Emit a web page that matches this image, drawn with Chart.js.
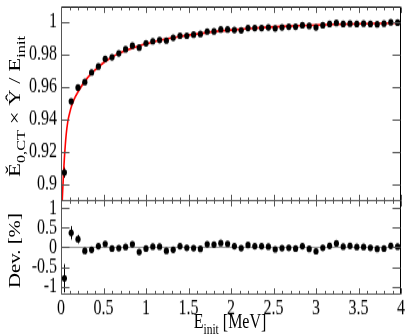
<!DOCTYPE html>
<html>
<head>
<meta charset="utf-8">
<script src="https://cdn.jsdelivr.net/npm/chart.js@4.4.1/dist/chart.umd.min.js"></script>
<style>
  body { margin: 0; background: #fff; }
  #wrap { position: absolute; left: 0; top: 0; width: 407px; height: 258px;
          transform: scaleY(1.2984); transform-origin: 0 0;
          font-family: 'Liberation Serif', 'Times New Roman', serif; }
  canvas { position: absolute; left: 0; top: 0; }
  .ttl { position: absolute; white-space: nowrap; font-size: 16px; color: #000; line-height: 1; }
  .ttl sub { font-size: 72%; vertical-align: -0.35em; line-height: 0; }
  .rot { transform: translate(-50%, -50%) rotate(-90deg); }
</style>
</head>
<body>
<div id="wrap">
  <canvas id="chart" width="407" height="258"></canvas>
  <div class="ttl rot" style="left:15px; top:82px; font-size:17.5px">Ě<sub>0,CT</sub> × Ŷ / E<sub>init</sub></div>
  <div class="ttl rot" style="left:15px; top:193px">Dev. [%]</div>
  <div class="ttl" style="left:230px; top:247.5px; transform:translate(-50%,-50%)">E<sub>init</sub> [MeV]</div>
</div>
<script>
// bin centres [MeV]
const energy = [0.04, 0.12, 0.2, 0.28, 0.36, 0.44, 0.52, 0.6, 0.68, 0.76,
  0.84, 0.92, 1.0, 1.08, 1.16, 1.24, 1.32, 1.4, 1.48, 1.56,
  1.64, 1.72, 1.8, 1.88, 1.96, 2.04, 2.12, 2.2, 2.28, 2.36,
  2.44, 2.52, 2.6, 2.68, 2.76, 2.84, 2.92, 3.0, 3.08, 3.16,
  3.24, 3.32, 3.4, 3.48, 3.56, 3.64, 3.72, 3.8, 3.88, 3.96]

// top panel: measured ratio
const ratio = [0.907, 0.951, 0.9596, 0.963, 0.969, 0.9727, 0.9774, 0.9784, 0.9808, 0.9833,
  0.9855, 0.9843, 0.987, 0.9883, 0.989, 0.9887, 0.9904, 0.9917, 0.9917, 0.9924,
  0.9928, 0.9943, 0.9944, 0.9956, 0.9956, 0.9953, 0.9951, 0.9965, 0.9965, 0.9965,
  0.9969, 0.9963, 0.9969, 0.9973, 0.9973, 0.9982, 0.9978, 0.9969, 0.9982, 0.999,
  0.9996, 0.999, 0.9992, 0.999, 0.9992, 0.999, 0.9988, 0.9992, 1.0, 0.9998]
const ratioErr = [0.0033, 0.0016, 0.001, 0.0008, 0.0006, 0.0005, 0.0005, 0.0004, 0.0004, 0.0004,
  0.0004, 0.0004, 0.0004, 0.0003, 0.0003, 0.0003, 0.0003, 0.0003, 0.0003, 0.0003,
  0.0003, 0.0003, 0.0003, 0.0003, 0.0003, 0.0003, 0.0003, 0.0003, 0.0003, 0.0003,
  0.0003, 0.0003, 0.0003, 0.0003, 0.0003, 0.0003, 0.0003, 0.0003, 0.0003, 0.0003,
  0.0003, 0.0003, 0.0003, 0.0003, 0.0003, 0.0003, 0.0003, 0.0003, 0.0003, 0.0003]

// fit curve
const fitE = [0.01, 0.02, 0.03, 0.04, 0.06, 0.08, 0.1, 0.12, 0.16, 0.2,
  0.28, 0.36, 0.44, 0.52, 0.6, 0.7, 0.8, 0.92, 1.0, 1.2,
  1.4, 1.6, 1.8, 2.0, 2.2, 2.4, 2.6, 2.8, 3.0, 3.2,
  3.4, 3.6, 3.8, 4.0]
const fitRatio = [0.884, 0.896, 0.907, 0.916, 0.93, 0.9385, 0.9435, 0.9475, 0.953, 0.957,
  0.9635, 0.9685, 0.9723, 0.9758, 0.9785, 0.9812, 0.9833, 0.9855, 0.9867, 0.9893,
  0.9912, 0.9928, 0.9942, 0.9952, 0.9961, 0.9968, 0.9974, 0.9979, 0.9983, 0.9987,
  0.999, 0.9992, 0.9994, 0.9996]

// bottom panel: deviation from fit [%]
const dev = [-0.79, 0.37, 0.21, -0.09, -0.06, 0.03, 0.09, -0.03, -0.02, 0.01,
  0.08, -0.12, -0.03, 0.02, 0.02, -0.09, -0.06, 0.03, -0.01, -0.02,
  -0.04, 0.08, 0.07, 0.11, 0.09, 0.03, -0.02, 0.06, 0.03, 0.03,
  0.02, -0.05, -0.02, -0.01, -0.03, 0.03, -0.04, -0.1, -0.01, 0.04,
  0.1, 0.02, 0.04, 0.01, 0.01, -0.01, -0.04, -0.03, 0.04, 0.02]
const devErr = [0.36, 0.17, 0.11, 0.08, 0.06, 0.05, 0.05, 0.04, 0.04, 0.04,
  0.04, 0.04, 0.04, 0.03, 0.03, 0.03, 0.03, 0.03, 0.03, 0.03,
  0.03, 0.03, 0.03, 0.03, 0.03, 0.03, 0.03, 0.03, 0.03, 0.03,
  0.03, 0.03, 0.03, 0.03, 0.03, 0.03, 0.03, 0.03, 0.03, 0.03,
  0.03, 0.03, 0.03, 0.03, 0.03, 0.03, 0.03, 0.03, 0.03, 0.03]

const xTicks = [0, 0.5, 1, 1.5, 2, 2.5, 3, 3.5, 4]
const yTopTicks = [0.9, 0.92, 0.94, 0.96, 0.98, 1]
const yDevTicks = [-1, -0.5, 0, 0.5, 1]

const tickFont = { family: "'Liberation Serif', serif", size: 16 }
const fmt = v => String(Math.round(v * 1000) / 1000)
const setTicks = arr => scale => { scale.ticks = arr.map(v => ({ value: v })) }
const fixY = s => { s.width = 61; s.paddingTop = 0; s.paddingBottom = 0 }
const fixX = s => { s.height = 31; s.paddingLeft = 0; s.paddingRight = 0 }

// vertical error bars for both panels
const errorBars = {
  id: 'errorBars',
  beforeDatasetsDraw(chart) {
    const ctx = chart.ctx
    const x = chart.scales.x, yt = chart.scales.yTop, yd = chart.scales.yDev
    ctx.save()
    ctx.strokeStyle = '#000'
    ctx.lineWidth = 1
    energy.forEach((e, i) => {
      const px = Math.round(x.getPixelForValue(e)) + 0.5
      ctx.beginPath()
      ctx.moveTo(px, yt.getPixelForValue(ratio[i] - ratioErr[i]))
      ctx.lineTo(px, yt.getPixelForValue(ratio[i] + ratioErr[i]))
      ctx.moveTo(px, yd.getPixelForValue(dev[i] - devErr[i]))
      ctx.lineTo(px, yd.getPixelForValue(dev[i] + devErr[i]))
      ctx.stroke()
    })
    ctx.restore()
  }
}

// frame with inward ticks, root style
const frame = {
  id: 'frame',
  afterDatasetsDraw(chart) {
    const ctx = chart.ctx
    const x = chart.scales.x, yt = chart.scales.yTop, yd = chart.scales.yDev
    const L = Math.round(x.left) + 0.5, R = Math.round(x.right) - 0.5
    const T = Math.round(yt.top) + 0.5, M = Math.round(yt.bottom) + 0.5, B = Math.round(yd.bottom) - 0.5
    ctx.save()
    ctx.lineWidth = 1

    ctx.strokeStyle = '#000'
    ctx.beginPath()
    ctx.moveTo(L, T); ctx.lineTo(R, T); ctx.lineTo(R, B)
    ctx.stroke()

    ctx.strokeStyle = '#555'
    ctx.beginPath()
    ctx.moveTo(L, T); ctx.lineTo(L, B); ctx.lineTo(R, B)
    ctx.moveTo(L, M); ctx.lineTo(R, M)
    // x ticks, major every 0.5, minor every 0.1
    for (let k = 0; k <= 40; k++) {
      const px = Math.round(x.getPixelForValue(k / 10)) + 0.5
      const len = k % 5 === 0 ? 4.5 : 2.5
      ctx.moveTo(px, T); ctx.lineTo(px, T + len)
      ctx.moveTo(px, M); ctx.lineTo(px, M - len)
      ctx.moveTo(px, M); ctx.lineTo(px, M + len)
      ctx.moveTo(px, B); ctx.lineTo(px, B - len)
    }
    yTopTicks.forEach(v => {
      const py = Math.round(yt.getPixelForValue(v)) + 0.5
      ctx.moveTo(L, py); ctx.lineTo(L + 8, py)
      ctx.moveTo(R, py); ctx.lineTo(R - 8, py)
    })
    yDevTicks.forEach(v => {
      const py = Math.round(yd.getPixelForValue(v)) + 0.5
      ctx.moveTo(L, py); ctx.lineTo(L + 8, py)
      ctx.moveTo(R, py); ctx.lineTo(R - 8, py)
    })
    ctx.stroke()
    ctx.restore()
  }
}

const pts = (xs, ys) => xs.map((e, i) => ({ x: e, y: ys[i] }))

new Chart(document.getElementById('chart'), {
  type: 'scatter',
  data: {
    datasets: [
      {
        data: pts(energy, ratio), yAxisID: 'yTop',
        pointRadius: 2.6, pointBackgroundColor: '#000', pointBorderWidth: 0
      },
      {
        data: pts(energy, dev), yAxisID: 'yDev',
        pointRadius: 2.6, pointBackgroundColor: '#000', pointBorderWidth: 0
      },
      {
        type: 'line', data: pts(fitE, fitRatio), yAxisID: 'yTop',
        borderColor: '#ff0000', borderWidth: 1.6, pointRadius: 0,
        cubicInterpolationMode: 'monotone', clip: 0
      },
      {
        type: 'line', data: [{ x: 0, y: 0 }, { x: 4, y: 0 }], yAxisID: 'yDev',
        borderColor: '#9a9a9a', borderWidth: 1, pointRadius: 0
      }
    ]
  },
  options: {
    responsive: false,
    animation: false,
    events: [],
    layout: { padding: { top: 5, right: 6, left: 0, bottom: 0 } },
    plugins: { legend: { display: false }, tooltip: { enabled: false } },
    scales: {
      x: {
        type: 'linear', position: 'bottom', min: 0, max: 4,
        afterBuildTicks: setTicks(xTicks),
        afterFit: fixX,
        grid: { display: false, drawTicks: false }, border: { display: false },
        ticks: { font: tickFont, color: '#000', padding: 1, maxRotation: 0, autoSkip: false, callback: fmt }
      },
      yDev: {
        type: 'linear', position: 'left', stack: 'panels', stackWeight: 1,
        min: -1.21, max: 1.21,
        afterBuildTicks: setTicks(yDevTicks),
        afterFit: fixY,
        grid: { display: false, drawTicks: false }, border: { display: false },
        ticks: { font: tickFont, color: '#000', padding: 4, autoSkip: false, callback: fmt }
      },
      yTop: {
        type: 'linear', position: 'left', stack: 'panels', stackWeight: 2.04,
        min: 0.89, max: 1.0098,
        afterBuildTicks: setTicks(yTopTicks),
        afterFit: fixY,
        grid: { display: false, drawTicks: false }, border: { display: false },
        ticks: { font: tickFont, color: '#000', padding: 4, autoSkip: false, callback: fmt }
      }
    }
  },
  plugins: [errorBars, frame]
})
</script>
</body>
</html>
